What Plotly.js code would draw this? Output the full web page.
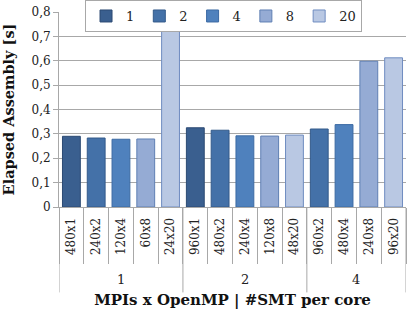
<!DOCTYPE html>
<html>
<head>
<meta charset="utf-8">
<script src="https://cdn.plot.ly/plotly-3.0.1.min.js"></script>
<style>html,body{margin:0;padding:0;background:#fff;}#chart{width:407px;height:309px;}</style>
</head>
<body>
<div id="chart"></div>
<script>
const seriesNames = ["1", "2", "4", "8", "20"];
const seriesColors = ["#3a5f8f", "#4471a8", "#4f81bd", "#95abd4", "#b9c8e3"];
const seriesLines = ["#2c4a73", "#335a8a", "#3c6aa3", "#5f7fb3", "#6f8cc0"];

// x categories (configuration) and their group (#SMT per core)
const allGroups = ["1","1","1","1","1","2","2","2","2","2","4","4","4","4"];
const allLabels = ["480x1","240x2","120x4","60x8","24x20","960x1","480x2","240x4","120x8","48x20","960x2","480x4","240x8","96x20"];

// series values (by configuration)
const s1Labels = ["480x1", "960x1"];
const s1Values = [0.290, 0.325];

const s2Labels = ["240x2", "480x2", "960x2"];
const s2Values = [0.283, 0.315, 0.320];

const s4Labels = ["120x4", "240x4", "480x4"];
const s4Values = [0.278, 0.292, 0.338];

const s8Labels = ["60x8", "120x8", "240x8"];
const s8Values = [0.279, 0.291, 0.598];

const s20Labels = ["24x20", "48x20", "96x20"];
const s20Values = [0.725, 0.295, 0.612];

const serif = "DejaVu Serif, Liberation Serif, serif";
const seriesData = [
  [s1Labels, s1Values],
  [s2Labels, s2Values],
  [s4Labels, s4Values],
  [s8Labels, s8Values],
  [s20Labels, s20Values]
];

const traces = seriesData.map((d, i) => ({
  type: "bar",
  name: seriesNames[i],
  x: d[0],
  y: d[1],
  marker: {color: seriesColors[i], line: {color: seriesLines[i], width: 1}},
  width: 0.72
}));

// group boundaries and centers derived from the category list
const boundaries = [-0.5];
const groupNames = [];
const groupCenters = [];
let start = 0;
for (let i = 1; i <= allGroups.length; i++) {
  if (i === allGroups.length || allGroups[i] !== allGroups[i - 1]) {
    boundaries.push(i - 0.5);
    groupNames.push(allGroups[i - 1]);
    groupCenters.push((start + i - 1) / 2);
    start = i;
  }
}

const shapes = boundaries.map(b => ({
  type: "line", xref: "x", yref: "paper", x0: b, x1: b, y0: 0, y1: -0.438,
  line: {color: "#a8a8a8", width: 1}, layer: "below"
}));

const annotations = groupNames.map((g, k) => ({
  text: g, xref: "x", yref: "paper", x: groupCenters[k], y: -0.372,
  xanchor: "center", yanchor: "middle", showarrow: false,
  font: {family: serif, size: 13, color: "#222"}
}));

const layout = {
  width: 407, height: 309,
  margin: {l: 59, r: 1, t: 11, b: 102},
  barmode: "overlay",
  separators: ", ",
  paper_bgcolor: "#fff", plot_bgcolor: "#fff",
  font: {family: serif, size: 12, color: "#222"},
  showlegend: true,
  legend: {
    orientation: "h", x: 0.075, y: 1.056, xanchor: "left", yanchor: "top",
    bgcolor: "#fff", bordercolor: "#a8a8a8", borderwidth: 1,
    font: {family: serif, size: 13, color: "#222"},
    itemwidth: 30, traceorder: "normal"
  },
  shapes: shapes,
  annotations: annotations,
  xaxis: {
    type: "category",
    categoryorder: "array", categoryarray: allLabels,
    range: [-0.5, allLabels.length - 0.5],
    tickangle: -90,
    tickson: "boundaries",
    ticklabelstandoff: 5,
    tickfont: {family: serif, size: 12, color: "#222"},
    showline: true, linecolor: "#a8a8a8", linewidth: 1,
    ticks: "outside", ticklen: 56, tickcolor: "#a8a8a8", tickwidth: 1,
    showgrid: false,
    automargin: false,
    title: {text: "MPIs x OpenMP | #SMT per core", font: {family: serif, size: 15, color: "#111", weight: "bold"}, standoff: 50}
  },
  yaxis: {
    range: [0, 0.8], dtick: 0.1,
    showgrid: true, gridcolor: "#a8a8a8", gridwidth: 1,
    showline: true, linecolor: "#a8a8a8", linewidth: 1,
    ticks: "outside", ticklen: 5, tickcolor: "#a8a8a8",
    zeroline: false,
    automargin: false,
    tickfont: {family: serif, size: 12, color: "#222"},
    title: {text: "Elapsed Assembly [s]", font: {family: serif, size: 14.5, color: "#111", weight: "bold"}, standoff: 14}
  }
};

Plotly.newPlot("chart", traces, layout, {displayModeBar: false, staticPlot: true});
</script>
</body>
</html>
